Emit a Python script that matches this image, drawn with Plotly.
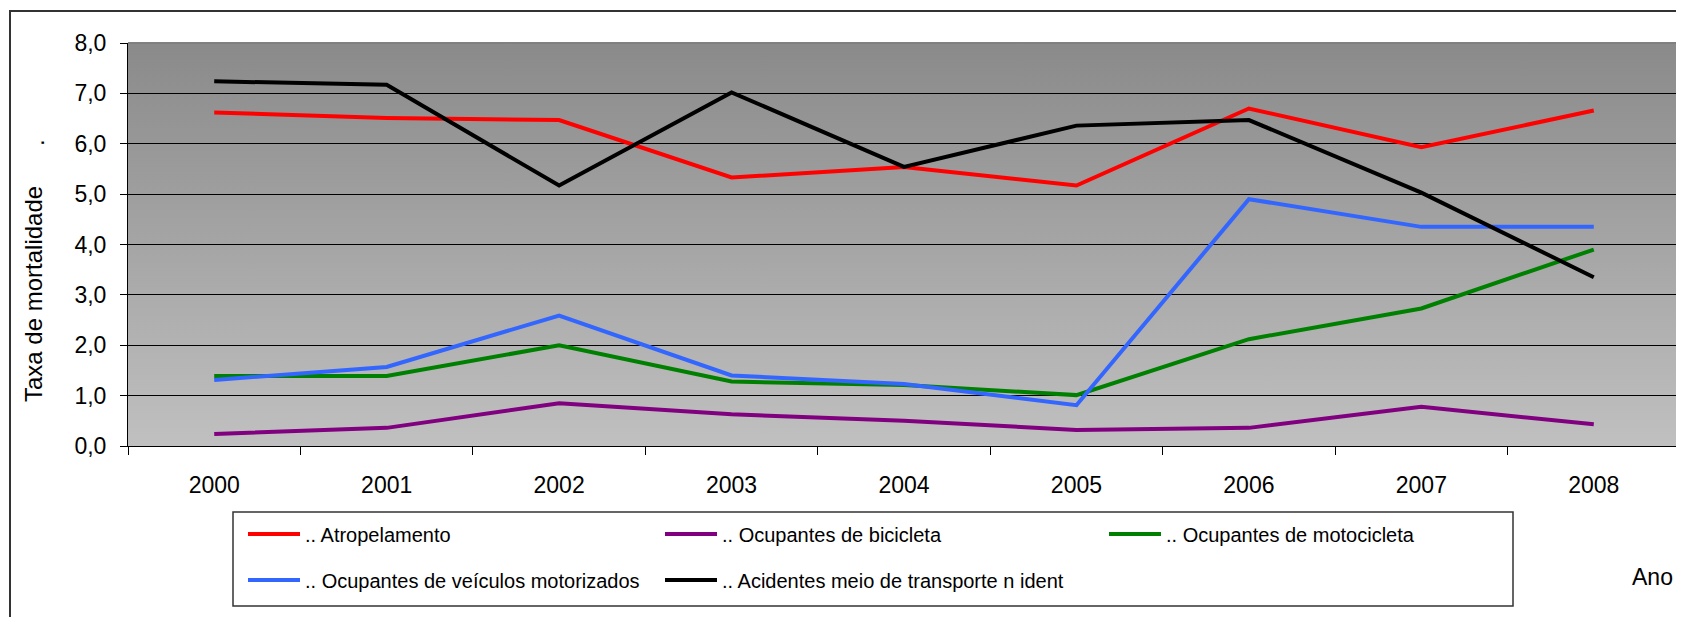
import base64
import plotly.graph_objects as go

years = ["2000", "2001", "2002", "2003", "2004", "2005", "2006", "2007", "2008"]
atropelamento = [6.62, 6.51, 6.47, 5.33, 5.54, 5.17, 6.70, 5.93, 6.66]
bicicleta = [0.24, 0.36, 0.85, 0.63, 0.50, 0.32, 0.36, 0.78, 0.43]
motocicleta = [1.39, 1.39, 2.00, 1.28, 1.21, 1.01, 2.12, 2.73, 3.90]
veiculos = [1.31, 1.57, 2.59, 1.40, 1.23, 0.81, 4.90, 4.35, 4.35]
acidentes = [7.24, 7.17, 5.17, 7.02, 5.54, 6.36, 6.47, 5.03, 3.35]
yticks = [0, 1, 2, 3, 4, 5, 6, 7, 8]

series = [
    (".. Atropelamento", atropelamento, "#FF0000", "legend"),
    (".. Ocupantes de bicicleta", bicicleta, "#800080", "legend2"),
    (".. Ocupantes de motocicleta", motocicleta, "#008000", "legend3"),
    (".. Ocupantes de veículos motorizados", veiculos, "#3366FF", "legend4"),
    (".. Acidentes meio de transporte n ident", acidentes, "#000000", "legend5"),
]

# page is 1684x617; the browser body keeps an 8px margin, so the figure sits at (8, 8)
OX, OY = 8, 8
W, H = 1684 - OX, 617 - OY
PLOT_L, PLOT_T, PLOT_R, PLOT_B = 128, 43, 1680, 446  # page pixels
L, T = PLOT_L - OX, PLOT_T - OY
R, B = W - (PLOT_R - OX), H - (PLOT_B - OY)
PW, PH = W - L - R, H - T - B


def px_x(p):
    return (p - OX - L) / PW


def px_y(p):
    return (T + PH - (p - OY)) / PH


FONT = "Liberation Sans, Arial, sans-serif"

fig = go.Figure()
for name, vals, color, leg in series:
    fig.add_trace(go.Scatter(
        x=years, y=vals, name=name, mode="lines",
        line=dict(color=color, width=4), legend=leg,
    ))

svg = ('<svg xmlns="http://www.w3.org/2000/svg" width="10" height="100" viewBox="0 0 10 100" '
       'preserveAspectRatio="none"><defs><linearGradient id="g" x1="0" y1="0" x2="0" y2="1">'
       '<stop offset="0" stop-color="#8A8A8A"/><stop offset="1" stop-color="#C0C0C0"/>'
       '</linearGradient></defs><rect width="10" height="100" fill="url(#g)"/></svg>')
src = "data:image/svg+xml;base64," + base64.b64encode(svg.encode()).decode()

legend_pos = {
    "legend": (243, 534),
    "legend2": (660, 534),
    "legend3": (1104, 534),
    "legend4": (243, 580),
    "legend5": (660, 580),
}
legends = {}
for key, (lx, ly) in legend_pos.items():
    legends[key] = dict(
        x=px_x(lx), y=px_y(ly), xanchor="left", yanchor="middle",
        bgcolor="rgba(0,0,0,0)", borderwidth=0, itemwidth=52,
        font=dict(family=FONT, size=20, color="black"),
    )

fig.update_layout(
    width=W, height=H,
    margin=dict(l=L, r=R, t=T, b=B),
    paper_bgcolor="white",
    plot_bgcolor="#A5A5A5",
    separators=",.",
    showlegend=True,
    images=[dict(source=src, xref="paper", yref="paper", x=0, y=1, sizex=1, sizey=1,
                 sizing="stretch", xanchor="left", yanchor="top", layer="below")],
    xaxis=dict(
        type="category", categoryorder="array", categoryarray=years,
        range=[-0.5, len(years) - 0.5], automargin=False,
        tickson="boundaries", ticks="outside", ticklen=8, tickcolor="black", tickwidth=1,
        showline=True, linecolor="black", linewidth=1,
        showgrid=False, zeroline=False,
        tickfont=dict(family=FONT, size=23, color="black"),
        ticklabelstandoff=18,
    ),
    yaxis=dict(
        range=[0, 8], tickvals=yticks, tickformat=".1f", automargin=False,
        ticks="outside", ticklen=7, tickcolor="black", tickwidth=1,
        showline=True, linecolor="black", linewidth=1,
        showgrid=True, gridcolor="black", gridwidth=1, zeroline=False,
        tickfont=dict(family=FONT, size=23, color="black"),
        ticklabelstandoff=9,
    ),
    shapes=[
        dict(type="path", xref="paper", yref="paper", path="M 0,1 L 1,1 L 1,0",
             line=dict(color="#808080", width=2)),
        dict(type="rect", xref="paper", yref="paper",
             x0=px_x(233), x1=px_x(1513), y0=px_y(606), y1=px_y(512),
             line=dict(color="#333333", width=1.5), fillcolor="rgba(0,0,0,0)"),
        dict(type="rect", xref="paper", yref="paper",
             x0=px_x(10), x1=px_x(1700), y0=px_y(640), y1=px_y(11),
             line=dict(color="#333333", width=2), fillcolor="rgba(0,0,0,0)"),
    ],
    annotations=[
        dict(text="Taxa de mortalidade", xref="paper", yref="paper",
             x=px_x(33), y=px_y(294), textangle=-90, showarrow=False,
             font=dict(family=FONT, size=24, color="black"),
             xanchor="center", yanchor="middle"),
        dict(text=".", xref="paper", yref="paper",
             x=px_x(35), y=px_y(143), textangle=-90, showarrow=False,
             font=dict(family=FONT, size=24, color="black"),
             xanchor="center", yanchor="middle"),
        dict(text="Ano", xref="paper", yref="paper",
             x=px_x(1652), y=px_y(577), showarrow=False,
             font=dict(family=FONT, size=23, color="black"),
             xanchor="center", yanchor="middle"),
    ],
    **legends,
)

fig.write_html("out.html")
